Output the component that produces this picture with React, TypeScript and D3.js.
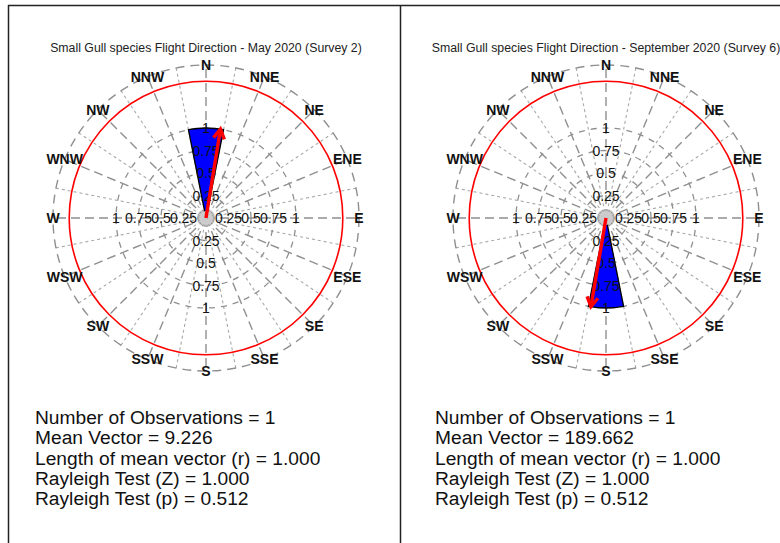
import React from "react";
import * as d3 from "d3";

// ---- data ----
const directions = ["N", "NNE", "NE", "ENE", "E", "ESE", "SE", "SSE", "S", "SSW", "SW", "WSW", "W", "WNW", "NW", "NNW"];
const ringTicks = [0.25, 0.5, 0.75, 1];
const ringTickLabels = ["0.25", "0.5", "0.75", "1"];
const titles = [
  "Small Gull species Flight Direction - May 2020 (Survey 2)",
  "Small Gull species Flight Direction - September 2020 (Survey 6)",
];
// proportion of observations per 22.5° bin (N, NNE, ... NNW)
const binsMay = [1, 0, 0, 0, 0, 0, 0, 0, 0, 0, 0, 0, 0, 0, 0, 0];
const binsSep = [0, 0, 0, 0, 0, 0, 0, 0, 1, 0, 0, 0, 0, 0, 0, 0];
const meanVectors = [9.226, 189.662];
const meanLengths = [1.0, 1.0];
const statsMay = [
  "Number of Observations = 1",
  "Mean Vector = 9.226",
  "Length of mean vector (r) = 1.000",
  "Rayleigh Test (Z) = 1.000",
  "Rayleigh Test (p) = 0.512",
];
const statsSep = [
  "Number of Observations = 1",
  "Mean Vector = 189.662",
  "Length of mean vector (r) = 1.000",
  "Rayleigh Test (Z) = 1.000",
  "Rayleigh Test (p) = 0.512",
];
const criticalRadius = 1.52;
const outerRadius = 1.7;

const W = 780;
const H = 543;
const rScale = d3.scaleLinear().domain([0, 1]).range([0, 90]);
const toRad = (deg: number) => (deg * Math.PI) / 180;
const polar = (deg: number, r: number): [number, number] => [
  r * Math.sin(toRad(deg)),
  -r * Math.cos(toRad(deg)),
];

const FONT = "Arial, 'Liberation Sans', sans-serif";

function Rose({ cx, title, bins, mean, len, stats }: any) {
  const cy = 218;
  const binWidth = 360 / bins.length;
  const arc = d3.arc<any>();
  const R = rScale(outerRadius);
  const radial = d3.range(32).map((i) => i * 11.25);
  const [ax, ay] = polar(mean, rScale(len));
  const headLen = 11;
  const h1 = polar(mean + 180 - 30, headLen);
  const h2 = polar(mean + 180 + 30, headLen);
  return (
    <g>
      <text x={cx} y={52} textAnchor="middle" fontFamily={FONT} fontSize={12.3} fill="#222">
        {title}
      </text>
      <g transform={`translate(${cx},${cy})`}>
        {radial.map((a, i) => {
          const [x, y] = polar(a, R);
          const major = i % 2 === 0;
          return (
            <line
              key={"r" + i}
              x1={0}
              y1={0}
              x2={x}
              y2={y}
              stroke={major ? "#8f8f8f" : "#a8a8a8"}
              strokeWidth={major ? 1.4 : 1.1}
              strokeDasharray={major ? "9,5" : "3,3"}
            />
          );
        })}
        {ringTicks.map((t) => (
          <circle
            key={"c" + t}
            r={rScale(t)}
            fill="none"
            stroke="#8f8f8f"
            strokeWidth={1.3}
            strokeDasharray="6,6"
          />
        ))}
        <circle r={R} fill="none" stroke="#8f8f8f" strokeWidth={1.4} strokeDasharray="9,6" />
        <circle r={rScale(criticalRadius)} fill="none" stroke="#ff0000" strokeWidth={1.6} />
        {bins.map((v: number, i: number) =>
          v > 0 ? (
            <path
              key={"w" + i}
              d={
                arc({
                  innerRadius: 0,
                  outerRadius: rScale(v),
                  startAngle: toRad(i * binWidth - binWidth / 2),
                  endAngle: toRad(i * binWidth + binWidth / 2),
                }) as string
              }
              fill="#0000ff"
              stroke="#000"
              strokeWidth={1.3}
            />
          ) : null
        )}
        <circle r={7} fill="#cfcfcf" opacity={0.9} />
        {ringTicks.map((t, i) => (
          <g key={"tl" + t} fontFamily={FONT} fontSize={14} fill="#111">
            <text x={0} y={-rScale(t)} textAnchor="middle" dominantBaseline="central">
              {ringTickLabels[i]}
            </text>
            <text x={0} y={rScale(t)} textAnchor="middle" dominantBaseline="central">
              {ringTickLabels[i]}
            </text>
            <text x={-rScale(t)} y={0} textAnchor="middle" dominantBaseline="central">
              {ringTickLabels[i]}
            </text>
            <text x={rScale(t)} y={0} textAnchor="middle" dominantBaseline="central">
              {ringTickLabels[i]}
            </text>
          </g>
        ))}
        {directions.map((d, i) => {
          const [x, y] = polar(i * 22.5, R);
          return (
            <text
              key={d}
              x={x}
              y={y}
              textAnchor="middle"
              dominantBaseline="central"
              fontFamily={FONT}
              fontWeight="bold"
              fontSize={14}
              fill="#111"
            >
              {d}
            </text>
          );
        })}
        <line x1={0} y1={0} x2={ax} y2={ay} stroke="#ff0000" strokeWidth={3.4} />
        <polyline
          points={`${ax + h1[0]},${ay + h1[1]} ${ax},${ay} ${ax + h2[0]},${ay + h2[1]}`}
          fill="none"
          stroke="#ff0000"
          strokeWidth={3.4}
        />
      </g>
      {stats.map((s: string, i: number) => (
        <text
          key={"s" + i}
          x={cx - 171}
          y={424 + i * 20.3}
          fontFamily={FONT}
          fontSize={19.2}
          fill="#111"
        >
          {s}
        </text>
      ))}
    </g>
  );
}

export default function App() {
  return (
    <svg
      width={W}
      height={H}
      style={{ position: "absolute", left: 0, top: 0, background: "#fff" }}
    >
      <rect width={W} height={H} fill="#fff" />
      <line x1={8} y1={5.5} x2={W} y2={5.5} stroke="#222" strokeWidth={1.5} />
      <line x1={8.5} y1={5} x2={8.5} y2={H} stroke="#222" strokeWidth={1.5} />
      <line x1={400.5} y1={5} x2={400.5} y2={H} stroke="#222" strokeWidth={1.5} />
      <Rose cx={206} title={titles[0]} bins={binsMay} mean={meanVectors[0]} len={meanLengths[0]} stats={statsMay} />
      <Rose cx={606} title={titles[1]} bins={binsSep} mean={meanVectors[1]} len={meanLengths[1]} stats={statsSep} />
    </svg>
  );
}
